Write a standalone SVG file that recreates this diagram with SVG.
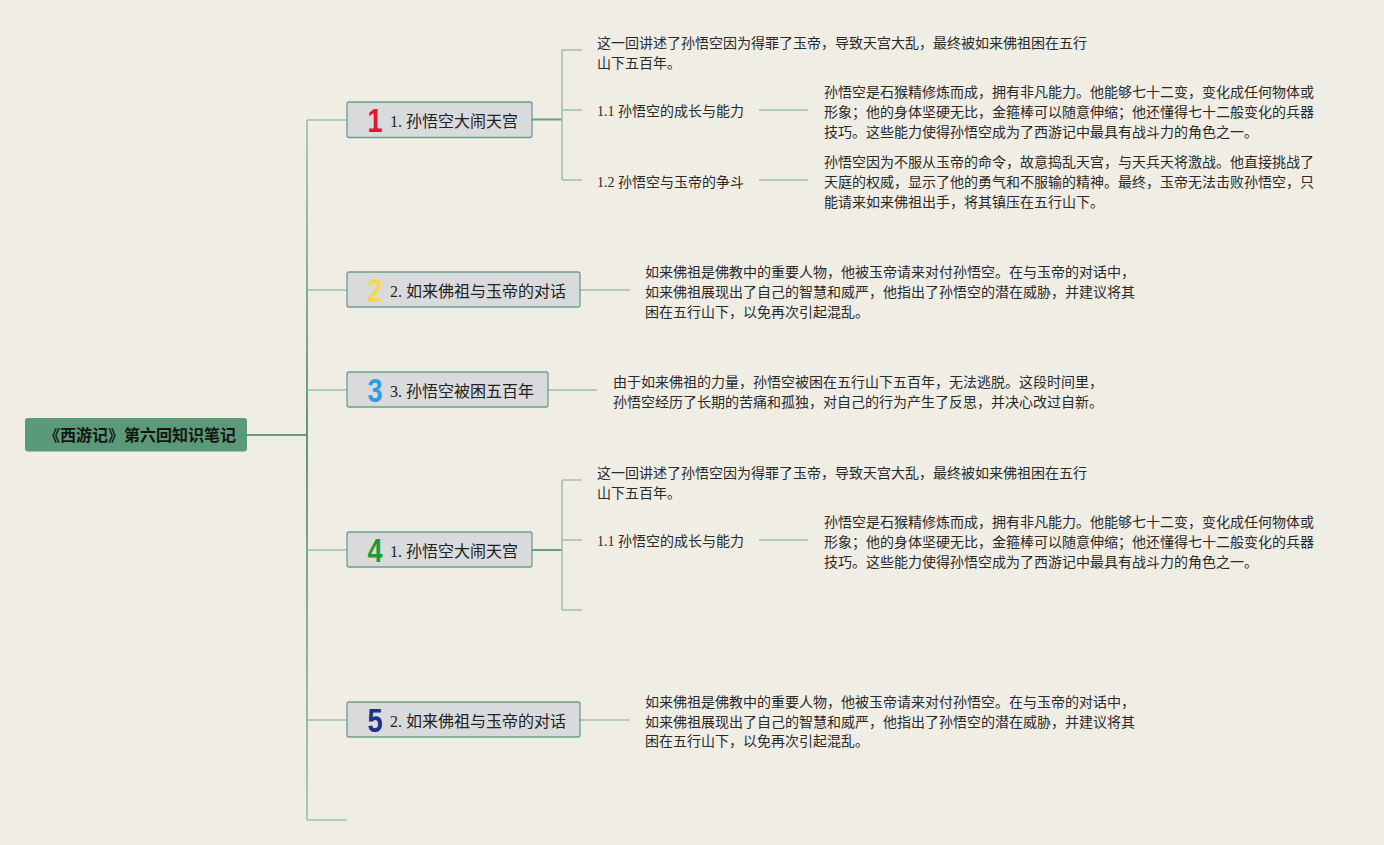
<svg xmlns="http://www.w3.org/2000/svg" width="1384" height="845" viewBox="0 0 1384 845">
<style>
.bg{fill:#f0ede4}
.root rect{fill:#5b9a78}
.root text{font-family:"Noto Sans CJK SC","Liberation Sans",sans-serif;font-weight:bold;font-size:16px;fill:#151515;text-anchor:middle}
.node rect{fill:#d9dadb;stroke:#6c9d90;stroke-width:1.3}
.node .t{font-family:"Liberation Serif","Noto Sans CJK SC",serif;font-size:16px;fill:#222}
.node .n{font-family:"Liberation Sans","Noto Sans",sans-serif;font-weight:bold;font-size:34px;text-anchor:middle}
.d{font-family:"Liberation Serif","Noto Sans CJK SC",serif;font-size:14px;fill:#2a2a2a}
.c{fill:none;stroke:#9cc0ab;stroke-width:1.5}
.cd{fill:none;stroke:#6a9a8c;stroke-width:2}
</style>
<defs>
<linearGradient id="trunk" gradientUnits="userSpaceOnUse" x1="0" y1="120" x2="0" y2="820">
<stop offset="0" stop-color="#a9c8b5"/>
<stop offset="0.45" stop-color="#5f9488"/>
<stop offset="1" stop-color="#a9c8b5"/>
</linearGradient>
</defs>
<rect class="bg" x="0" y="0" width="1384" height="845"/>
<g id="connectors">
<path class="cd" d="M247 435H307"/>
<path fill="none" stroke="url(#trunk)" stroke-width="2" d="M307 120V820"/>
<path class="c" d="M307 120H347M307 290H347M307 390H347M307 550H347M307 720H347M307 820H347"/>
<path class="cd" d="M532 119.5H562"/>
<path class="c" d="M562 50V180M562 50H582M562 110H582M562 180H582"/>
<path class="c" d="M759 110H808M759 180H808"/>
<path class="c" d="M580 290H630"/>
<path class="c" d="M548 390H597"/>
<path class="cd" d="M532 550H562"/>
<path class="c" d="M562 480V610M562 480H582M562 540H582M562 610H582"/>
<path class="c" d="M759 540H808"/>
<path class="c" d="M580 720H630"/>
</g>
<g id="root" class="root">
<rect x="25" y="418" width="222" height="33.5" rx="3"/>
<text x="140" y="441">《西游记》第六回知识笔记</text>
</g>
<g id="node1" class="node">
<rect x="347" y="102" width="185" height="35.5" rx="2"/>
<text class="n" transform="translate(375 132) scale(0.8 1)" fill="#e0182d">1</text>
<text class="t" x="390" y="127">1. 孙悟空大闹天宫</text>
</g>
<g id="node1-detail">
<text class="d" x="597" y="48">这一回讲述了孙悟空因为得罪了玉帝，导致天宫大乱，最终被如来佛祖困在五行</text>
<text class="d" x="597" y="68">山下五百年。</text>
</g>
<g id="node1-1">
<text class="d" x="597" y="116">1.1 孙悟空的成长与能力</text>
</g>
<g id="node1-1-detail">
<text class="d" x="824" y="97">孙悟空是石猴精修炼而成，拥有非凡能力。他能够七十二变，变化成任何物体或</text>
<text class="d" x="824" y="117">形象；他的身体坚硬无比，金箍棒可以随意伸缩；他还懂得七十二般变化的兵器</text>
<text class="d" x="824" y="137">技巧。这些能力使得孙悟空成为了西游记中最具有战斗力的角色之一。</text>
</g>
<g id="node1-2">
<text class="d" x="597" y="187">1.2 孙悟空与玉帝的争斗</text>
</g>
<g id="node1-2-detail">
<text class="d" x="824" y="167">孙悟空因为不服从玉帝的命令，故意捣乱天宫，与天兵天将激战。他直接挑战了</text>
<text class="d" x="824" y="187">天庭的权威，显示了他的勇气和不服输的精神。最终，玉帝无法击败孙悟空，只</text>
<text class="d" x="824" y="207">能请来如来佛祖出手，将其镇压在五行山下。</text>
</g>
<g id="node2" class="node">
<rect x="347" y="272" width="233" height="35" rx="2"/>
<text class="n" transform="translate(375 302) scale(0.8 1)" fill="#f7d84a">2</text>
<text class="t" x="390" y="297">2. 如来佛祖与玉帝的对话</text>
</g>
<g id="node2-detail">
<text class="d" x="645" y="277">如来佛祖是佛教中的重要人物，他被玉帝请来对付孙悟空。在与玉帝的对话中，</text>
<text class="d" x="645" y="297">如来佛祖展现出了自己的智慧和威严，他指出了孙悟空的潜在威胁，并建议将其</text>
<text class="d" x="645" y="317">困在五行山下，以免再次引起混乱。</text>
</g>
<g id="node3" class="node">
<rect x="347" y="372" width="201" height="35" rx="2"/>
<text class="n" transform="translate(375 402) scale(0.8 1)" fill="#2b9de0">3</text>
<text class="t" x="390" y="397">3. 孙悟空被困五百年</text>
</g>
<g id="node3-detail">
<text class="d" x="613" y="387">由于如来佛祖的力量，孙悟空被困在五行山下五百年，无法逃脱。这段时间里，</text>
<text class="d" x="613" y="407">孙悟空经历了长期的苦痛和孤独，对自己的行为产生了反思，并决心改过自新。</text>
</g>
<g id="node4" class="node">
<rect x="347" y="532" width="185" height="35" rx="2"/>
<text class="n" transform="translate(375 562) scale(0.8 1)" fill="#1e9a2e">4</text>
<text class="t" x="390" y="557">1. 孙悟空大闹天宫</text>
</g>
<g id="node4-detail">
<text class="d" x="597" y="478">这一回讲述了孙悟空因为得罪了玉帝，导致天宫大乱，最终被如来佛祖困在五行</text>
<text class="d" x="597" y="498">山下五百年。</text>
</g>
<g id="node4-1">
<text class="d" x="597" y="546">1.1 孙悟空的成长与能力</text>
</g>
<g id="node4-1-detail">
<text class="d" x="824" y="527">孙悟空是石猴精修炼而成，拥有非凡能力。他能够七十二变，变化成任何物体或</text>
<text class="d" x="824" y="547">形象；他的身体坚硬无比，金箍棒可以随意伸缩；他还懂得七十二般变化的兵器</text>
<text class="d" x="824" y="567">技巧。这些能力使得孙悟空成为了西游记中最具有战斗力的角色之一。</text>
</g>
<g id="node5" class="node">
<rect x="347" y="702" width="233" height="35" rx="2"/>
<text class="n" transform="translate(375 732) scale(0.8 1)" fill="#1d2f86">5</text>
<text class="t" x="390" y="727">2. 如来佛祖与玉帝的对话</text>
</g>
<g id="node5-detail">
<text class="d" x="645" y="707">如来佛祖是佛教中的重要人物，他被玉帝请来对付孙悟空。在与玉帝的对话中，</text>
<text class="d" x="645" y="727">如来佛祖展现出了自己的智慧和威严，他指出了孙悟空的潜在威胁，并建议将其</text>
<text class="d" x="645" y="746">困在五行山下，以免再次引起混乱。</text>
</g>
</svg>
